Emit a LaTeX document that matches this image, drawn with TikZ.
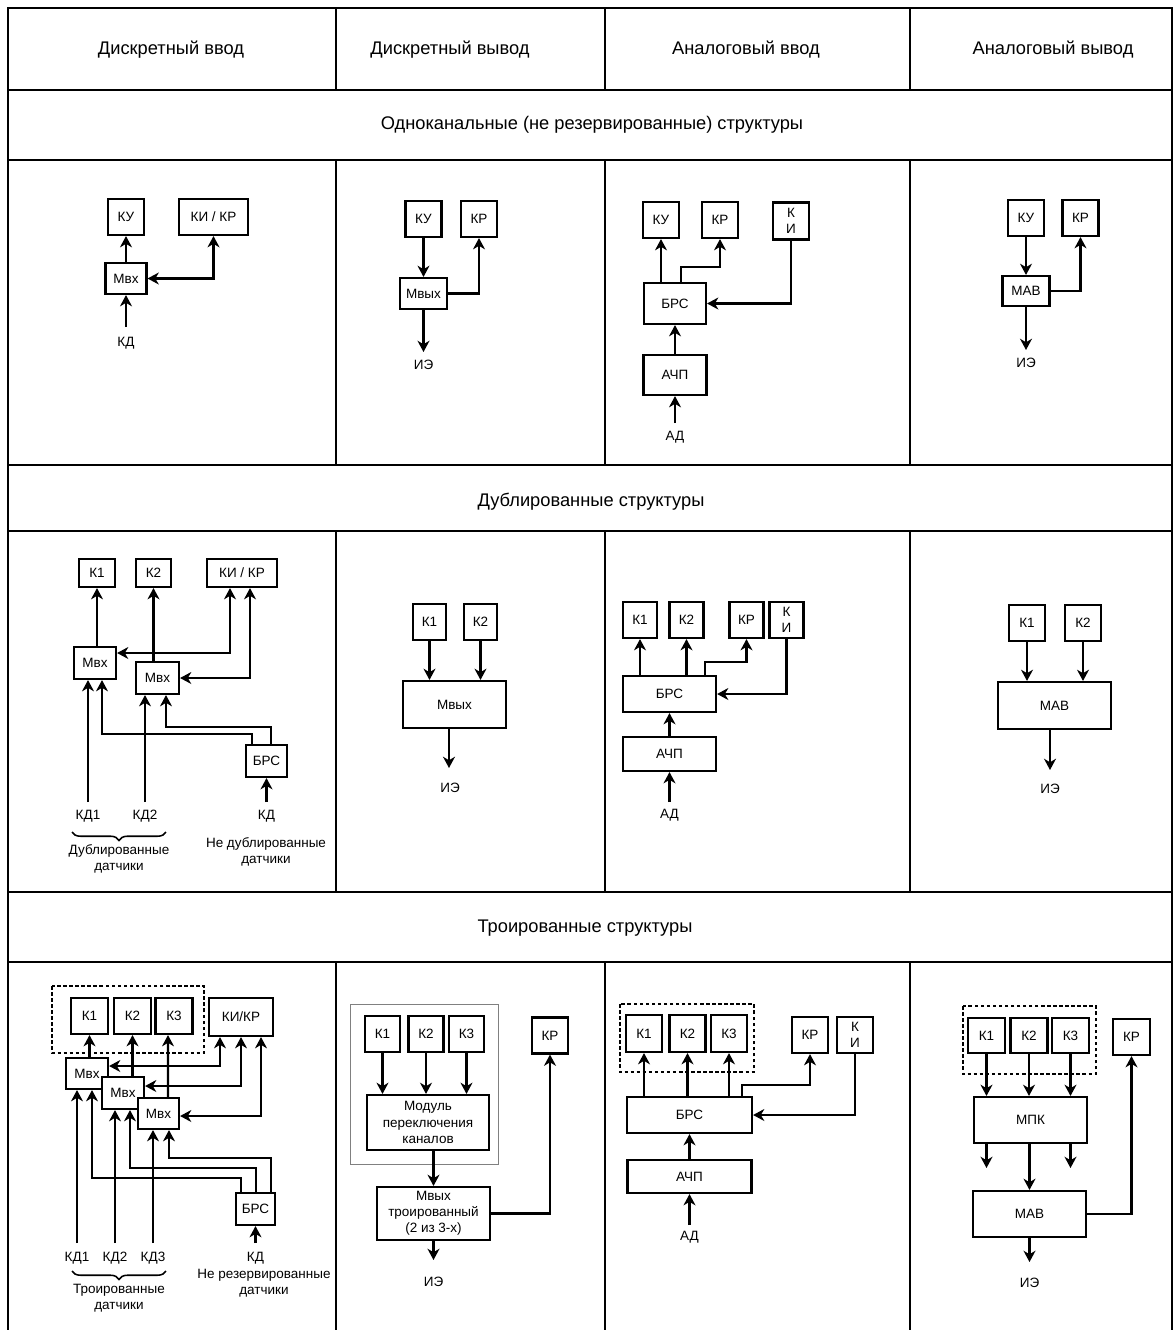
\documentclass[tikz,border=0pt]{standalone}
\usepackage{fontspec}
\setmainfont{Liberation Sans}
\usetikzlibrary{arrows.meta,calc,decorations.pathreplacing}
\tikzset{every node/.append style={font=\fontsize{9.6}{11.5}\selectfont}}

\begin{document}
\begin{tikzpicture}[x=0.025cm, y=-0.025cm]
		\tikzstyle{blk} = [rectangle, draw=black, line width=1.5pt, fill=white, inner sep=1pt, text centered, align=center];
		\tikzstyle{sq} = [blk, minimum width=0.9cm, minimum height=0.9cm];
		\tikzstyle{kbox} = [blk, minimum width=0.85cm, minimum height=0.9cm];
		\tikzstyle{sig} = [inner sep=0pt, align=center];
		\tikzstyle{hdr} = [inner sep=0pt, font=\fontsize{13}{15}\selectfont];
		\tikzstyle{tabline} = [line width=1.4pt, draw=black];
		\tikzstyle{conn} = [line width=1.5pt, -{Stealth[length=8pt, width=8.5pt, inset=2.5pt]}];
		\tikzstyle{conn2} = [line width=1.5pt, {Stealth[length=8pt, width=8.5pt, inset=2.5pt]}-{Stealth[length=8pt, width=8.5pt, inset=2.5pt]}];
		\tikzstyle{grpbox} = [line width=1.2pt, dash pattern=on 2.5pt off 1.8pt];
		\tikzstyle{frm} = [draw=gray, line width=0.7pt];
		\tikzstyle{brc} = [line width=1.1pt, decorate, decoration={brace, mirror, amplitude=6pt}];
		\useasboundingbox (0,0) rectangle (1173,1330);
		% ===== table =====
		\draw[tabline] (8,1330) -- (8,8) -- (1172,8) -- (1172,1330);
		\foreach \y in {90,160,465,531,892,962} \draw[tabline] (8,\y) -- (1172,\y);
		\foreach \x in {336,605,910} {
			\draw[tabline] (\x,8) -- (\x,90);
			\draw[tabline] (\x,160) -- (\x,465);
			\draw[tabline] (\x,531) -- (\x,892);
			\draw[tabline] (\x,962) -- (\x,1330);
		}
		\node (hdi) [hdr] at (171,50) {Дискретный ввод};
		\node (hdo) [hdr] at (450,50) {Дискретный вывод};
		\node (hai) [hdr] at (746,50) {Аналоговый ввод};
		\node (hao) [hdr] at (1053,50) {Аналоговый вывод};
		\node (sone) [hdr] at (592,125) {Одноканальные (не резервированные) структуры};
		\node (sdup) [hdr] at (591,502) {Дублированные структуры};
		\node (stri) [hdr] at (585,928) {Троированные структуры};
		% ===== single channel =====
		\node (o1ku) [sq] at (126,217) {КУ};
		\node (o1kikr) [blk, minimum width=1.725cm, minimum height=0.9cm] at (213.5,217) {КИ / КР};
		\node (o1mvx) [blk, minimum width=1.025cm, minimum height=0.775cm] at (126,278.5) {Мвх};
		\node (o1kd) [sig] at (126,343) {КД};
		\coordinate (o1in) at (126,327);
		\draw[conn] (o1mvx) -- (o1ku);
		\draw[conn2] (o1mvx.east) -| (o1kikr.south);
		\draw[conn] (o1in) -- (o1mvx);

		\node (o2ku) [sq] at (423.5,219) {КУ};
		\node (o2kr) [sq] at (479,219) {КР};
		\node (o2mvyx) [blk, minimum width=1.175cm, minimum height=0.775cm] at (423.5,293.5) {Мвых};
		\node (o2ie) [sig] at (423.5,365) {ИЭ};
		\coordinate (o2out) at (423.5,352);
		\draw[conn] (o2ku) -- (o2mvyx);
		\draw[conn] (o2mvyx.east) -| (o2kr.south);
		\draw[conn] (o2mvyx) -- (o2out);

		\node (o3ku) [sq] at (661,220) {КУ};
		\node (o3kr) [sq] at (720,220) {КР};
		\node (o3ki) [sq, minimum height=0.925cm] at (791,221) {К\\И};
		\node (o3brs) [blk, minimum width=1.55cm, minimum height=1.025cm] at (675,303.5) {БРС};
		\node (o3adc) [blk, minimum width=1.575cm, minimum height=1cm] at (675,375) {АЧП};
		\node (o3ad) [sig] at (675,437) {АД};
		\coordinate (o3in) at (675,423);
		\draw[conn] (o3brs.north -| o3ku) -- (o3ku);
		\draw[conn] ($(o3brs.north)+(6,0)$) -- ++(0,-15) -| (o3kr.south);
		\draw[conn] (o3ki.south) |- (o3brs.east);
		\draw[conn] (o3adc) -- (o3brs);
		\draw[conn] (o3in) -- (o3adc);

		\node (o4ku) [sq] at (1026,218) {КУ};
		\node (o4kr) [sq] at (1080.5,218) {КР};
		\node (o4mav) [blk, minimum width=1.175cm, minimum height=0.75cm] at (1026,291) {МАВ};
		\node (o4ie) [sig] at (1026,363) {ИЭ};
		\coordinate (o4out) at (1026,350);
		\draw[conn] (o4ku) -- (o4mav);
		\draw[conn] (o4mav.east) -| (o4kr.south);
		\draw[conn] (o4mav) -- (o4out);
		% ===== duplicated =====
		\node (d1k1) [blk, minimum width=0.9cm, minimum height=0.7cm] at (97,573) {К1};
		\node (d1k2) [blk, minimum width=0.875cm, minimum height=0.7cm] at (153.5,573) {К2};
		\node (d1kikr) [blk, minimum width=1.75cm, minimum height=0.7cm] at (242,573) {КИ / КР};
		\node (d1mvx1) [blk, minimum width=1.05cm, minimum height=0.8cm] at (95,663) {Мвх};
		\node (d1mvx2) [blk, minimum width=1.075cm, minimum height=0.8cm] at (157.5,678) {Мвх};
		\node (d1brs) [blk, minimum width=1.025cm, minimum height=0.8cm] at (266.5,761) {БРС};
		\node (d1kd1) [sig] at (88,816) {КД1};
		\node (d1kd2) [sig] at (145,816) {КД2};
		\node (d1kd) [sig] at (266.5,816) {КД};
		\coordinate (d1in1) at (88,802);
		\coordinate (d1in2) at (145,802);
		\coordinate (d1in) at (266.5,802);
		\node (d1dupd) [sig] at (119,859) {Дублированные\\датчики};
		\node (d1oned) [sig] at (266,852) {Не дублированные\\датчики};
		\draw[conn] (d1mvx1.north -| d1k1) -- (d1k1);
		\draw[conn] (d1mvx2.north -| d1k2) -- (d1k2);
		\draw[conn2] ($(d1mvx1.east)+(0,-10)$) -| ($(d1kikr.south)+(-12,0)$);
		\draw[conn2] (d1mvx2.east) -| ($(d1kikr.south)+(8,0)$);
		\draw[conn] ($(d1brs.north)+(-14.5,0)$) -- ++(0,-10) -| ($(d1mvx1.south)+(7,0)$);
		\draw[conn] ($(d1brs.north)+(4.5,0)$) -- ++(0,-17) -| ($(d1mvx2.south)+(8.5,0)$);
		\draw[conn] (d1in1) -- (d1in1 |- d1mvx1.south);
		\draw[conn] (d1in2) -- (d1in2 |- d1mvx2.south);
		\draw[conn] (d1in) -- (d1brs);
		\draw[brc] (72,832) -- (166,832);

		\node (d2k1) [blk, minimum width=0.825cm, minimum height=0.9cm] at (429.5,622) {К1};
		\node (d2k2) [blk, minimum width=0.825cm, minimum height=0.9cm] at (480.5,622) {К2};
		\node (d2mvyx) [blk, minimum width=2.575cm, minimum height=1.175cm] at (454.5,704.5) {Мвых};
		\node (d2ie) [sig] at (450,788) {ИЭ};
		\coordinate (d2out) at (449,768);
		\draw[conn] (d2k1) -- (d2k1 |- d2mvyx.north);
		\draw[conn] (d2k2) -- (d2k2 |- d2mvyx.north);
		\draw[conn] (d2mvyx.south -| d2out) -- (d2out);

		\node (d3k1) [kbox] at (640,620) {К1};
		\node (d3k2) [kbox] at (686.5,620) {К2};
		\node (d3kr) [kbox] at (746.5,620) {КР};
		\node (d3ki) [kbox] at (786.5,620) {К\\И};
		\node (d3brs) [blk, minimum width=2.325cm, minimum height=0.9cm] at (669.5,694) {БРС};
		\node (d3adc) [blk, minimum width=2.325cm, minimum height=0.85cm] at (669.5,754) {АЧП};
		\node (d3ad) [sig] at (669.5,815) {АД};
		\coordinate (d3in) at (669.5,802);
		\draw[conn] (d3brs.north -| d3k1) -- (d3k1);
		\draw[conn] (d3brs.north -| d3k2) -- (d3k2);
		\draw[conn] ($(d3brs.north)+(35.5,0)$) -- ++(0,-13) -| (d3kr.south);
		\draw[conn] (d3ki.south) |- (d3brs.east);
		\draw[conn] (d3adc) -- (d3brs);
		\draw[conn] (d3in) -- (d3adc);

		\node (d4k1) [sq] at (1027,623) {К1};
		\node (d4k2) [sq] at (1083,623) {К2};
		\node (d4mav) [blk, minimum width=2.825cm, minimum height=1.175cm] at (1054.5,705.5) {МАВ};
		\node (d4ie) [sig] at (1050,789) {ИЭ};
		\coordinate (d4out) at (1050,770);
		\draw[conn] (d4k1) -- (d4k1 |- d4mav.north);
		\draw[conn] (d4k2) -- (d4k2 |- d4mav.north);
		\draw[conn] (d4mav.south -| d4out) -- (d4out);
		% ===== triplicated =====
		\draw[grpbox] (52,986) rectangle (204,1053);
		\node (t1k1) [blk, minimum width=0.925cm, minimum height=0.9cm] at (89.5,1016) {К1};
		\node (t1k2) [blk, minimum width=0.925cm, minimum height=0.9cm] at (132.5,1016) {К2};
		\node (t1k3) [blk, minimum width=0.925cm, minimum height=0.9cm] at (174,1016) {К3};
		\node (t1kikr) [blk, minimum width=1.6cm, minimum height=0.95cm] at (241,1017) {КИ/КР};
		\node (t1mvx1) [blk, minimum width=1.05cm, minimum height=0.775cm] at (87,1073.5) {Мвх};
		\node (t1mvx2) [blk, minimum width=1.05cm, minimum height=0.8cm] at (123,1093) {Мвх};
		\node (t1mvx3) [blk, minimum width=1.025cm, minimum height=0.775cm] at (158.5,1113.5) {Мвх};
		\node (t1brs) [blk, minimum width=0.975cm, minimum height=0.8cm] at (255.5,1209) {БРС};
		\node (t1kd1) [sig] at (77,1258) {КД1};
		\node (t1kd2) [sig] at (115,1258) {КД2};
		\node (t1kd3) [sig] at (153,1258) {КД3};
		\node (t1kd) [sig] at (255.5,1258) {КД};
		\coordinate (t1in1) at (77,1243);
		\coordinate (t1in2) at (115,1243);
		\coordinate (t1in3) at (153,1243);
		\coordinate (t1in) at (255.5,1243);
		\node (t1trid) [sig] at (119,1298) {Троированные\\датчики};
		\node (t1oned) [sig] at (264,1283) {Не резервированные\\датчики};
		\draw[conn] (t1mvx1.north -| t1k1) -- (t1k1);
		\draw[conn] (t1mvx2.north -| t1k2) -- (t1k2);
		\draw[conn] ($(t1mvx3.north)+(9.5,0)$) -- ($(t1k3.south)+(-6,0)$);
		\draw[conn2] ($(t1mvx1.east)+(0,-7.5)$) -| ($(t1kikr.south)+(-21,0)$);
		\draw[conn2] ($(t1mvx2.east)+(0,-7)$) -| (t1kikr.south);
		\draw[conn2] ($(t1mvx3.east)+(0,2.5)$) -| ($(t1kikr.south)+(20,0)$);
		\draw[conn] ($(t1brs.north)+(-14.5,0)$) -- ++(0,-14) -| ($(t1mvx1.south)+(5,0)$);
		\draw[conn] ($(t1brs.north)+(0.5,0)$) -- ++(0,-24) -| ($(t1mvx2.south)+(7,0)$);
		\draw[conn] ($(t1brs.north)+(15.5,0)$) -- ++(0,-34) -| ($(t1mvx3.south)+(10.5,0)$);
		\draw[conn] (t1in1) -- (t1in1 |- t1mvx1.south);
		\draw[conn] (t1in2) -- (t1in2 |- t1mvx2.south);
		\draw[conn] (t1in3) -- (t1in3 |- t1mvx3.south);
		\draw[conn] (t1in) -- (t1brs);
		\draw[brc] (72,1271) -- (166,1271);

		\draw[frm] (350,1004) rectangle (498,1164);
		\node (t2k1) [blk, minimum width=0.875cm, minimum height=0.9cm] at (382.5,1034) {К1};
		\node (t2k2) [blk, minimum width=0.875cm, minimum height=0.9cm] at (426,1034) {К2};
		\node (t2k3) [blk, minimum width=0.875cm, minimum height=0.9cm] at (466.5,1034) {К3};
		\node (t2kr) [sq] at (550,1035.5) {КР};
		\node (t2mod) [blk, minimum width=3.05cm, minimum height=1.375cm] at (428,1122.5) {Модуль\\переключения\\каналов};
		\node (t2mvyx) [blk, minimum width=2.825cm, minimum height=1.325cm] at (433.5,1213.5) {Мвых\\троированный\\(2 из 3-х)};
		\node (t2ie) [sig] at (433.5,1282) {ИЭ};
		\coordinate (t2out) at (433.5,1260);
		\draw[conn] (t2k1) -- (t2k1 |- t2mod.north);
		\draw[conn] (t2k2) -- (t2k2 |- t2mod.north);
		\draw[conn] (t2k3) -- (t2k3 |- t2mod.north);
		\draw[conn] (t2mod.south -| t2mvyx) -- (t2mvyx);
		\draw[conn] (t2mvyx.east) -| (t2kr.south);
		\draw[conn] (t2mvyx) -- (t2out);

		\draw[grpbox] (620,1004) rectangle (754,1072);
		\node (t3k1) [blk, minimum width=0.9cm, minimum height=0.925cm] at (644,1033.5) {К1};
		\node (t3k2) [blk, minimum width=0.9cm, minimum height=0.925cm] at (687.5,1033.5) {К2};
		\node (t3k3) [blk, minimum width=0.9cm, minimum height=0.925cm] at (729,1033.5) {К3};
		\node (t3kr) [sq] at (810,1035) {КР};
		\node (t3ki) [sq] at (855,1035) {К\\И};
		\node (t3brs) [blk, minimum width=3.125cm, minimum height=0.9cm] at (689.5,1115) {БРС};
		\node (t3adc) [blk, minimum width=3.1cm, minimum height=0.825cm] at (689.5,1176.5) {АЧП};
		\node (t3ad) [sig] at (689.5,1237) {АД};
		\coordinate (t3in) at (689.5,1225);
		\draw[conn] (t3brs.north -| t3k1) -- (t3k1);
		\draw[conn] (t3brs.north -| t3k2) -- (t3k2);
		\draw[conn] (t3brs.north -| t3k3) -- (t3k3);
		\draw[conn] ($(t3brs.north)+(52.5,0)$) -- ++(0,-11) -| (t3kr.south);
		\draw[conn] (t3ki.south) |- (t3brs.east);
		\draw[conn] (t3adc) -- (t3brs);
		\draw[conn] (t3in) -- (t3adc);

		\draw[grpbox] (963,1006) rectangle (1096,1074);
		\node (t4k1) [blk, minimum width=0.925cm, minimum height=0.875cm] at (986.5,1035.5) {К1};
		\node (t4k2) [blk, minimum width=0.925cm, minimum height=0.875cm] at (1029,1035.5) {К2};
		\node (t4k3) [blk, minimum width=0.925cm, minimum height=0.875cm] at (1070.5,1035.5) {К3};
		\node (t4kr) [blk, minimum width=0.925cm, minimum height=0.9cm] at (1131.5,1037) {КР};
		\node (t4mpk) [blk, minimum width=2.825cm, minimum height=1.15cm] at (1030.5,1120) {МПК};
		\node (t4mav) [blk, minimum width=2.825cm, minimum height=1.15cm] at (1029.5,1214) {МАВ};
		\node (t4ie) [sig] at (1029.5,1283) {ИЭ};
		\coordinate (t4o1) at (986.5,1168);
		\coordinate (t4o3) at (1070.5,1168);
		\coordinate (t4out) at (1029.5,1262);
		\draw[conn] (t4k1) -- (t4k1 |- t4mpk.north);
		\draw[conn] (t4k2) -- (t4k2 |- t4mpk.north);
		\draw[conn] (t4k3) -- (t4k3 |- t4mpk.north);
		\draw[conn] (t4mpk.south -| t4o1) -- (t4o1);
		\draw[conn] (t4mpk.south -| t4o3) -- (t4o3);
		\draw[conn] (t4mpk.south -| t4mav) -- (t4mav);
		\draw[conn] (t4mav.east) -| (t4kr.south);
		\draw[conn] (t4mav) -- (t4out);
	\end{tikzpicture}
\end{document}
